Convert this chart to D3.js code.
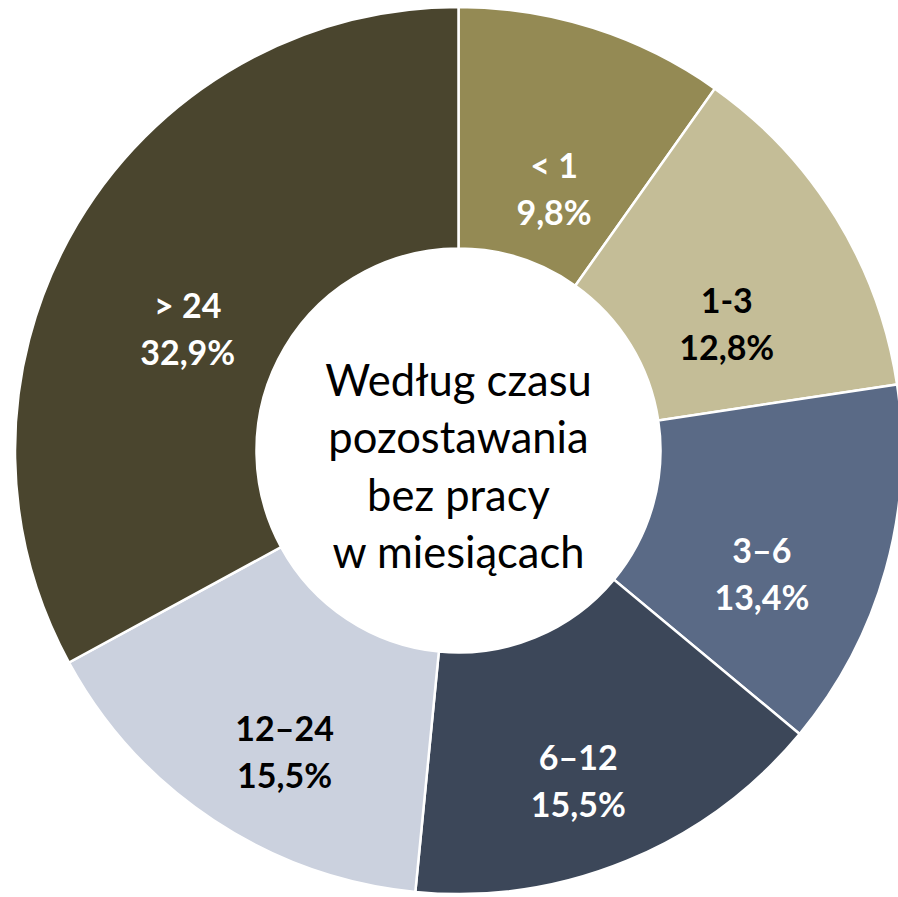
<!DOCTYPE html>
<html>

<head>
    <meta charset="utf-8">
    <style>
        body {
            margin: 0;
            background: white;
        }

        svg {
            display: block;
        }

        .slice-label {
            font-family: Lato, 'Open Sans', sans-serif;
            font-weight: 700;
            font-size: 34px;
        }

        .center-label {
            font-family: Lato, 'Open Sans', sans-serif;
            font-size: 43.5px;
            fill: #000;
        }
    </style>
</head>

<body>
    <svg width="898" height="897"></svg>
</body>

<script src="https://d3js.org/d3.v7.min.js"></script>

<script>
    // data
    let categories = ["< 1", "1-3", "3–6", "6–12", "12–24", "> 24"]
    let shares = [9.8, 12.8, 13.4, 15.5, 15.5, 32.9]
    let shareLabels = ["9,8%", "12,8%", "13,4%", "15,5%", "15,5%", "32,9%"]
    let sliceColors = ["#948a54", "#c4bd97", "#5a6a86", "#3c4759", "#cbd1de", "#4a452e"]
    let labelColors = ["#fff", "#000", "#fff", "#fff", "#000", "#fff"]
    let centerLines = ["Według czasu", "pozostawania", "bez pracy", "w miesiącach"]

    let width = 898
    let height = 897
    let cx = 458.5
    let cy = 450.5
    let outerR = 443.5
    let innerR = 202
    let labelR = 315
    let labelDrop = 40 // excel put the labels a bit lower than the centroid

    let svg = d3.select("svg")
    let g = svg.append("g").attr("transform", `translate(${cx},${cy})`)

    let rows = categories.map((c, i) => ({
        cat: c,
        value: shares[i],
        label: shareLabels[i],
        fill: sliceColors[i],
        text: labelColors[i]
    }))

    let pie = d3.pie()
        .sort(null)
        .value(d => d.value)

    let arc = d3.arc()
        .innerRadius(innerR)
        .outerRadius(outerR)

    let labelArc = d3.arc()
        .innerRadius(labelR)
        .outerRadius(labelR)

    let arcs = pie(rows)

    g.selectAll(".slice")
        .data(arcs)
        .join("path")
        .attr("class", "slice")
        .attr("d", arc)
        .style("fill", d => d.data.fill)
        .style("stroke", "white")
        .style("stroke-width", 2.5)

    let labels = g.selectAll(".slice-label")
        .data(arcs)
        .join("text")
        .attr("class", "slice-label")
        .attr("text-anchor", "middle")
        .attr("transform", d => {
            let [x, y] = labelArc.centroid(d)
            return `translate(${x},${y + labelDrop})`
        })
        .style("fill", d => d.data.text)

    labels.append("tspan")
        .attr("x", 0)
        .attr("y", -12)
        .text(d => d.data.cat)

    labels.append("tspan")
        .attr("x", 0)
        .attr("y", 35)
        .text(d => d.data.label)

    // text in the hole
    g.selectAll(".center-label")
        .data(centerLines)
        .join("text")
        .attr("class", "center-label")
        .attr("text-anchor", "middle")
        .attr("x", 0)
        .attr("y", (d, i) => -55 + i * 57.5)
        .text(d => d)
</script>

</html>
